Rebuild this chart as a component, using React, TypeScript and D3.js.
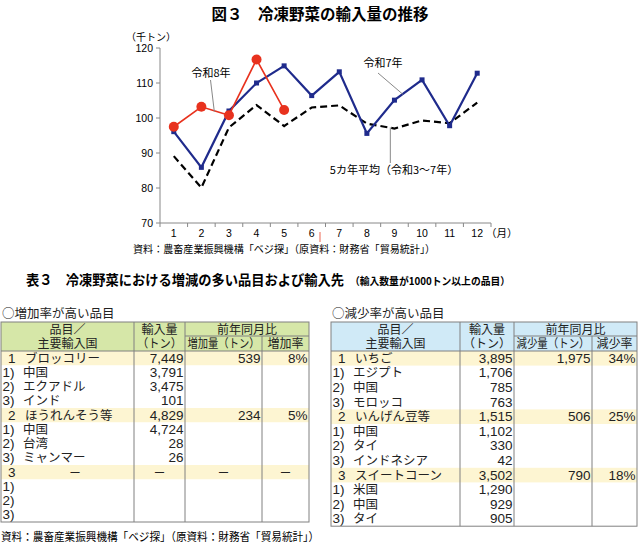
import { useEffect } from "react";
import * as d3 from "d3";

// 冷凍野菜の月別輸入量（千トン）
const months = ["1", "2", "3", "4", "5", "6", "7", "8", "9", "10", "11", "12"];
const reiwa7 = [96.1, 85.9, 102.0, 110.0, 114.9, 106.4, 113.2, 95.6, 105.1, 110.9, 97.8, 112.8];
const reiwa8 = [97.5, 103.2, 100.8, 116.7, 102.3];
const avg5 = [89.1, 80.1, 97.3, 103.7, 97.7, 103.0, 103.6, 98.4, 97.0, 99.3, 98.5, 104.4];
const yTicks = [70, 80, 90, 100, 110, 120];

// 表３
const rowNo = ["1", "1)", "2)", "3)", "2", "1)", "2)", "3)", "3", "1)", "2)", "3)"];

const incNames = ["ブロッコリー", "中国", "エクアドル", "インド", "ほうれんそう等", "中国", "台湾", "ミャンマー", "－", "", "", ""];
const incQty = ["7,449", "3,791", "3,475", "101", "4,829", "4,724", "28", "26", "－", "", "", ""];
const incDiff = ["539", "", "", "", "234", "", "", "", "－", "", "", ""];
const incRate = ["8%", "", "", "", "5%", "", "", "", "－", "", "", ""];

const decNames = ["いちご", "エジプト", "中国", "モロッコ", "いんげん豆等", "中国", "タイ", "インドネシア", "スイートコーン", "米国", "中国", "タイ"];
const decQty = ["3,895", "1,706", "785", "763", "1,515", "1,102", "330", "42", "3,502", "1,290", "929", "905"];
const decDiff = ["1,975", "", "", "", "506", "", "", "", "790", "", "", ""];
const decRate = ["34%", "", "", "", "25%", "", "", "", "18%", "", "", ""];

const SOURCE = "資料：農畜産業振興機構「ベジ探」（原資料：財務省「貿易統計」）";
const JP = "'Noto Sans CJK JP', 'Noto Sans', sans-serif";
const NUM = "'Liberation Sans', Arial, sans-serif";

function LineChart() {
  const x = d3.scalePoint<string>().domain(months).range([160, 491]).padding(0.5);
  const xm = d3.scaleLinear().domain([1, 12]).range([x("1")!, x("12")!]);
  const y = d3.scaleLinear().domain([70, 120]).range([223, 48]);
  const step = x.step();

  const line = d3
    .line<number>()
    .x((_, i) => x(months[i])!)
    .y(d => y(d));

  return (
    <g>
      <text x={320} y={20} textAnchor="middle" fontFamily={JP} fontSize={15.5} fontWeight="bold">
        図３　冷凍野菜の輸入量の推移
      </text>
      <text x={126} y={41} fontFamily={JP} fontSize={10}>（千トン）</text>

      {/* axes */}
      <line x1={160} x2={160} y1={y(120)} y2={y(70)} stroke="#888" />
      <line x1={160} x2={160 + step * 12} y1={y(70)} y2={y(70)} stroke="#888" />
      {yTicks.map(t => (
        <g key={t}>
          <line x1={156} x2={160} y1={y(t)} y2={y(t)} stroke="#888" />
          <text x={153} y={y(t) + 4} textAnchor="end" fontFamily={NUM} fontSize={10.5}>{t}</text>
        </g>
      ))}
      {d3.range(13).map(i => (
        <line key={i} x1={160 + i * step} x2={160 + i * step} y1={y(70)} y2={y(70) + 4} stroke="#888" />
      ))}
      {months.map(m => (
        <text key={m} x={x(m)} y={237} textAnchor="middle" fontFamily={NUM} fontSize={10.5}>{m}</text>
      ))}
      <text x={486} y={237} fontFamily={JP} fontSize={10.5}>（月）</text>
      <line x1={320} x2={320} y1={232} y2={242} stroke="#f08070" strokeWidth={1.2} />

      {/* 5カ年平均 */}
      <path d={line(avg5)!} fill="none" stroke="#000" strokeWidth={2.2} strokeDasharray="7,4" />

      {/* 令和7年 */}
      <path d={line(reiwa7)!} fill="none" stroke="#1f2b8c" strokeWidth={2.2} />
      {reiwa7.map((v, i) => (
        <rect key={i} x={x(months[i])! - 2.5} y={y(v) - 2.5} width={5} height={5} fill="#1f2b8c" />
      ))}

      {/* 令和8年 */}
      <path d={line(reiwa8)!} fill="none" stroke="#e8321e" strokeWidth={1.6} />
      {reiwa8.map((v, i) => (
        <circle key={i} cx={x(months[i])!} cy={y(v)} r={5} fill="#e8321e" />
      ))}

      {/* labels and leader lines */}
      <text x={211} y={77} textAnchor="middle" fontFamily={JP} fontSize={11}>令和8年</text>
      <line x1={210.5} y1={80} x2={xm(2.47)} y2={y(101.8)} stroke="#888" />
      <text x={383} y={67} textAnchor="middle" fontFamily={JP} fontSize={11}>令和7年</text>
      <line x1={378} y1={73} x2={xm(9.3)} y2={y(106.8)} stroke="#888" />
      <line x1={xm(8.85)} y1={y(97.3)} x2={xm(8.85)} y2={163} stroke="#888" />
      <text x={394} y={174} textAnchor="middle" fontFamily={JP} fontSize={11}>5カ年平均（令和3～7年）</text>

      <text x={133} y={253} fontFamily={JP} fontSize={10.5} textLength={302} lengthAdjust="spacingAndGlyphs">
        {SOURCE}
      </text>
    </g>
  );
}

type TableProps = {
  cols: number[];
  top: number;
  rowH: number;
  headFill: string;
  title: string;
  diffHead: string;
  rateHead: string;
  names: string[];
  qty: string[];
  diff: string[];
  rate: string[];
};

function SummaryTable({ cols, top, rowH, headFill, title, diffHead, rateHead, names, qty, diff, rate }: TableProps) {
  const headMid = top + 14;
  const headBottom = top + 29;
  const rows = d3.range(rowNo.length);
  const bottom = headBottom + rowH * rows.length;
  const ry = d3.scaleLinear().domain([0, rows.length]).range([headBottom, bottom]);
  const x0 = cols[0];
  const ink = "#222";
  const grid = "#808080";
  const fs = 12.5;

  const numCell = (v: string, c: number, r: number) => {
    if (!v) return null;
    const yy = ry(r) + rowH / 2 + 4.5;
    if (v === "－")
      return (
        <text key={c} x={(cols[c] + cols[c + 1]) / 2} y={yy} textAnchor="middle" fontFamily={JP} fontSize={fs} fill={ink}>
          {v}
        </text>
      );
    return (
      <text key={c} x={cols[c + 1] - 1.5} y={yy} textAnchor="end" fontFamily={NUM} fontSize={13.5} fill={ink}>
        {v}
      </text>
    );
  };

  return (
    <g>
      <text x={x0 + 1} y={top - 4} fontFamily={JP} fontSize={12.5} fill={ink}>{title}</text>
      <rect x={x0} y={top} width={cols[4] - x0} height={headBottom - top} fill={headFill} />
      {rows
        .filter(r => r % 4 === 0)
        .map(r => (
          <rect key={r} x={x0} y={ry(r)} width={cols[4] - x0} height={rowH} fill="#fdf5d2" />
        ))}

      {/* header */}
      <g fontFamily={JP} fontSize={12} fill={ink} textAnchor="middle">
        <text x={(cols[0] + cols[1]) / 2} y={top + 11.5}>品目／</text>
        <text x={(cols[0] + cols[1]) / 2} y={top + 26}>主要輸入国</text>
        <text x={(cols[1] + cols[2]) / 2} y={top + 11.5}>輸入量</text>
        <text x={(cols[1] + cols[2]) / 2} y={top + 26} textLength={cols[2] - cols[1] - 6} lengthAdjust="spacingAndGlyphs">
          （トン）
        </text>
        <text x={(cols[2] + cols[4]) / 2} y={top + 11.5}>前年同月比</text>
        <text x={(cols[2] + cols[3]) / 2} y={top + 26} textLength={cols[3] - cols[2] - 5} lengthAdjust="spacingAndGlyphs">
          {diffHead}
        </text>
        <text x={(cols[3] + cols[4]) / 2} y={top + 26}>{rateHead}</text>
      </g>

      {/* body */}
      {rows.map(r => {
        const lead = r % 4 === 0;
        const yy = ry(r) + rowH / 2 + 4.5;
        return (
          <g key={r}>
            <text x={x0 + (lead ? 7 : 1.5)} y={yy} fontFamily={NUM} fontSize={13.5} fill={ink}>{rowNo[r]}</text>
            {names[r] === "－" ? (
              <text x={x0 + 74} y={yy} textAnchor="middle" fontFamily={JP} fontSize={fs} fill={ink}>－</text>
            ) : (
              <text x={x0 + (lead ? 24 : 22)} y={yy} fontFamily={JP} fontSize={fs} fill={ink}>{names[r]}</text>
            )}
            {numCell(qty[r], 1, r)}
            {numCell(diff[r], 2, r)}
            {numCell(rate[r], 3, r)}
          </g>
        );
      })}

      {/* grid */}
      <g stroke={grid} strokeWidth={1} fill="none">
        <rect x={x0} y={top} width={cols[4] - x0} height={bottom - top} />
        <line x1={x0} x2={cols[4]} y1={headBottom} y2={headBottom} />
        <line x1={cols[2]} x2={cols[4]} y1={headMid} y2={headMid} />
        <line x1={cols[1]} x2={cols[1]} y1={top} y2={bottom} />
        <line x1={cols[2]} x2={cols[2]} y1={top} y2={bottom} />
        <line x1={cols[3]} x2={cols[3]} y1={headMid} y2={bottom} />
      </g>
    </g>
  );
}

export default function App() {
  useEffect(() => {
    document.body.style.margin = "0";
  }, []);

  return (
    <svg width={640} height={546} style={{ display: "block", background: "#fff" }}>
      <LineChart />

      <text x={26} y={285} fontFamily={JP} fontSize={14} fontWeight="bold" textLength={318} lengthAdjust="spacingAndGlyphs">
        表３　冷凍野菜における増減の多い品目および輸入先
      </text>
      <text x={350} y={285} fontFamily={JP} fontSize={10.5} fontWeight="bold" textLength={160} lengthAdjust="spacingAndGlyphs">
        （輸入数量が1000トン以上の品目）
      </text>

      <SummaryTable
        cols={[1, 134, 185, 262, 309]}
        top={322}
        rowH={14.25}
        headFill="#d6e7a8"
        title="○増加率が高い品目"
        diffHead="増加量（トン）"
        rateHead="増加率"
        names={incNames}
        qty={incQty}
        diff={incDiff}
        rate={incRate}
      />
      <SummaryTable
        cols={[331, 460, 514, 592, 637]}
        top={322}
        rowH={14.6}
        headFill="#d0eaf7"
        title="○減少率が高い品目"
        diffHead="減少量（トン）"
        rateHead="減少率"
        names={decNames}
        qty={decQty}
        diff={decDiff}
        rate={decRate}
      />

      <text x={1} y={541} fontFamily={JP} fontSize={11.5} textLength={318} lengthAdjust="spacingAndGlyphs">
        {SOURCE}
      </text>
    </svg>
  );
}
